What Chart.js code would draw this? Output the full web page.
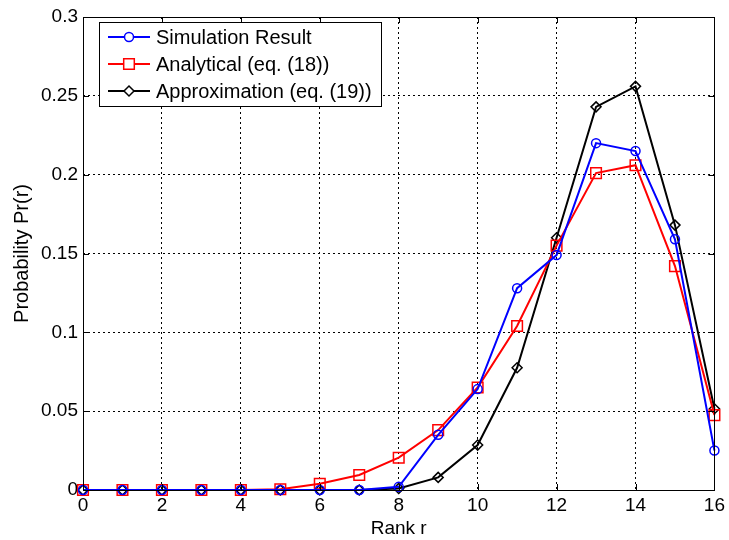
<!DOCTYPE html>
<html>
<head>
<meta charset="utf-8">
<script src="https://cdn.jsdelivr.net/npm/chart.js@4.4.0/dist/chart.umd.min.js"></script>
<style>
  html, body { margin: 0; padding: 0; background: #fff; }
  #wrap { width: 729px; height: 540px; position: relative; }
</style>
</head>
<body>
<div id="wrap"><canvas id="chart"></canvas></div>
<script>
// ─── Data ─────────────────────────────────────────────────────
const ranks      = [0, 1, 2, 3, 4, 5, 6, 7, 8, 9, 10, 11, 12, 13, 14, 15, 16];
const simulation = [0, 0, 0, 0, 0, 0, 0, 0, 0.002, 0.035, 0.064, 0.128, 0.149, 0.220, 0.215, 0.159, 0.025];
const analytical = [0, 0, 0, 0, 0, 0.0005, 0.004, 0.0095, 0.0205, 0.038, 0.065, 0.104, 0.155, 0.201, 0.206, 0.142, 0.0475];
const approx     = [0, 0, 0, 0, 0, 0, 0, 0, 0.001, 0.008, 0.0285, 0.0775, 0.160, 0.243, 0.256, 0.168, 0.0515];
const xTicks     = [0, 2, 4, 6, 8, 10, 12, 14, 16];
const yTicks     = [0, 0.05, 0.1, 0.15, 0.2, 0.25, 0.3];

const FONT = 'Liberation Sans, Arial, sans-serif';

const toXY = vals => vals.map((v, i) => ({ x: ranks[i], y: v }));

// ─── Frame, inward ticks and boxed legend (MATLAB style) ──────
const matlabFrame = {
    id: 'matlabFrame',
    afterDatasetsDraw(chart) {
        const { ctx, chartArea: a, scales: { x, y } } = chart;
        ctx.save();
        ctx.strokeStyle = '#000';
        ctx.lineWidth = 1;
        ctx.beginPath();
        xTicks.forEach(t => {
            const px = Math.round(x.getPixelForValue(t)) + 0.5;
            ctx.moveTo(px, a.bottom); ctx.lineTo(px, a.bottom - 6);
            ctx.moveTo(px, a.top);    ctx.lineTo(px, a.top + 6);
        });
        yTicks.forEach(t => {
            const py = Math.round(y.getPixelForValue(t)) + 0.5;
            ctx.moveTo(a.left, py);  ctx.lineTo(a.left + 6, py);
            ctx.moveTo(a.right, py); ctx.lineTo(a.right - 6, py);
        });
        ctx.stroke();
        ctx.strokeRect(Math.round(a.left) + 0.5, Math.round(a.top) + 0.5,
                       Math.round(a.right - a.left), Math.round(a.bottom - a.top));

        // legend
        const lx = 99, ly = 22, lw = 282, lh = 84, row = 27;
        ctx.fillStyle = '#fff';
        ctx.fillRect(lx, ly, lw, lh);
        ctx.strokeRect(lx + 0.5, ly + 0.5, lw, lh);
        ctx.textBaseline = 'middle';
        chart.data.datasets.forEach((ds, i) => {
            const cy = ly + 15 + i * row;
            ctx.strokeStyle = ds.borderColor;
            ctx.lineWidth = 2;
            ctx.beginPath();
            ctx.moveTo(lx + 9, cy); ctx.lineTo(lx + 51, cy);
            ctx.stroke();
            ctx.lineWidth = 1.5;
            ctx.fillStyle = '#fff';
            Chart.helpers.drawPoint(ctx, {
                pointStyle: ds.pointStyle, radius: ds.pointRadius, rotation: 0, borderWidth: 1.5
            }, lx + 30, cy);
            ctx.fillStyle = '#000';
            ctx.font = '20px ' + FONT;
            ctx.fillText(ds.label, lx + 57, cy + 1);
        });
        ctx.restore();
    }
};

const dsBase = {
    borderWidth: 2,
    pointBorderWidth: 1.5,
    pointBackgroundColor: 'rgba(0,0,0,0)',
    tension: 0,
    fill: false,
    clip: false
};

new Chart(document.getElementById('chart'), {
    type: 'line',
    data: {
        datasets: [
            { ...dsBase, label: 'Simulation Result', data: toXY(simulation),
              borderColor: '#0000ff', pointBorderColor: '#0000ff', pointStyle: 'circle', pointRadius: 4.5 },
            { ...dsBase, label: 'Analytical (eq. (18))', data: toXY(analytical),
              borderColor: '#ff0000', pointBorderColor: '#ff0000', pointStyle: 'rect', pointRadius: 7.5 },
            { ...dsBase, label: 'Approximation (eq. (19))', data: toXY(approx),
              borderColor: '#000000', pointBorderColor: '#000000', pointStyle: 'rectRot', pointRadius: 5 }
        ]
    },
    options: {
        responsive: true,
        maintainAspectRatio: false,
        animation: false,
        layout: { padding: { top: 17, right: 12, left: 0, bottom: 0 } },
        plugins: { legend: { display: false }, tooltip: { enabled: false } },
        scales: {
            x: {
                type: 'linear', min: 0, max: 16,
                afterBuildTicks: s => { s.ticks = xTicks.map(v => ({ value: v })); },
                afterFit: s => { s.height = 50; },
                grid: { color: '#000', lineWidth: 1, drawTicks: false, tickLength: 0 },
                border: { display: false, dash: [2, 3] },
                ticks: { color: '#000', font: { family: FONT, size: 19 }, padding: 4, maxRotation: 0 },
                title: { display: true, text: 'Rank r', color: '#000',
                         font: { family: FONT, size: 19 }, padding: { top: 0, bottom: 0 } }
            },
            y: {
                min: 0, max: 0.3,
                afterBuildTicks: s => { s.ticks = yTicks.map(v => ({ value: v })); },
                afterFit: s => { s.width = 83; },
                grid: { color: '#000', lineWidth: 1, drawTicks: false, tickLength: 0 },
                border: { display: false, dash: [2, 3] },
                ticks: { color: '#000', font: { family: FONT, size: 19 }, padding: 5,
                         callback: v => String(+v.toFixed(2)) },
                title: { display: true, text: 'Probability Pr(r)', color: '#000',
                         font: { family: FONT, size: 20 }, padding: { top: 10, bottom: 0 } }
            }
        }
    },
    plugins: [matlabFrame]
});
</script>
</body>
</html>
